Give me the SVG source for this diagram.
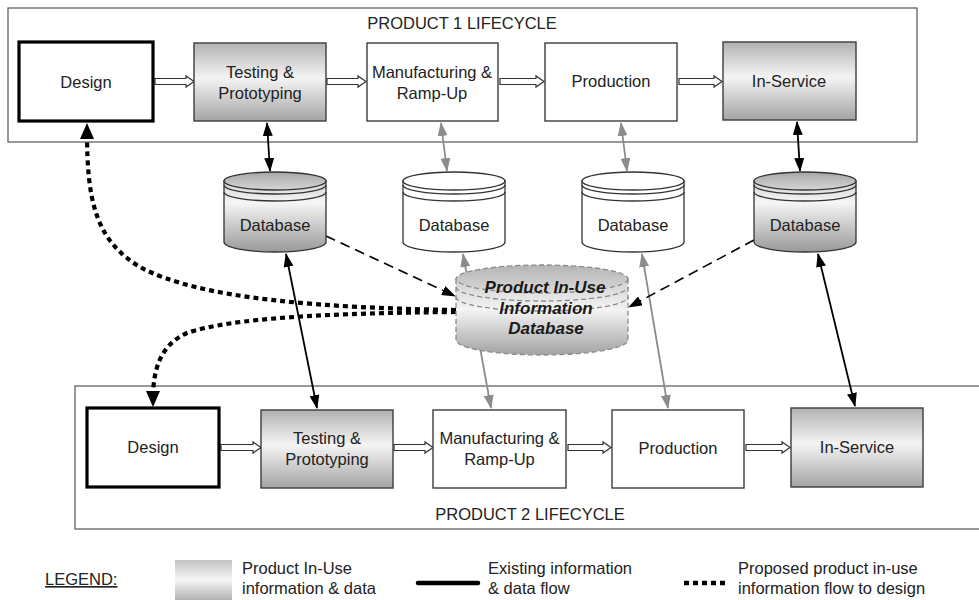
<svg xmlns="http://www.w3.org/2000/svg" width="979" height="600" viewBox="0 0 979 600">
<defs>
<linearGradient id="boxGrad" x1="0" y1="0" x2="0" y2="1"><stop offset="0" stop-color="#b2b2b2"/><stop offset="0.45" stop-color="#f4f4f4"/><stop offset="1" stop-color="#a4a4a4"/></linearGradient>
<linearGradient id="dbTop" x1="0" y1="0" x2="0" y2="1"><stop offset="0" stop-color="#a6a6a6"/><stop offset="1" stop-color="#d6d6d6"/></linearGradient>
<linearGradient id="dbBody" x1="0" y1="0" x2="0" y2="1"><stop offset="0" stop-color="#d0d0d0"/><stop offset="0.3" stop-color="#f6f6f6"/><stop offset="1" stop-color="#999999"/></linearGradient>
<linearGradient id="cTop" x1="0" y1="0" x2="0" y2="1"><stop offset="0" stop-color="#b4b4b4"/><stop offset="1" stop-color="#dadada"/></linearGradient>
<linearGradient id="cBody" x1="0" y1="0" x2="0" y2="1"><stop offset="0" stop-color="#cfcfcf"/><stop offset="0.4" stop-color="#f4f4f4"/><stop offset="1" stop-color="#a2a2a2"/></linearGradient>
<linearGradient id="legGrad" x1="0" y1="0" x2="0" y2="1"><stop offset="0" stop-color="#c2c2c2"/><stop offset="0.5" stop-color="#f6f6f6"/><stop offset="1" stop-color="#b2b2b2"/></linearGradient>
<marker id="mb" markerUnits="userSpaceOnUse" markerWidth="14" markerHeight="10" viewBox="0 0 14 10" refX="13" refY="5" orient="auto-start-reverse"><path d="M0,0 L14,5 L0,10 z" fill="#000"/></marker>
<marker id="mg" markerUnits="userSpaceOnUse" markerWidth="14" markerHeight="10" viewBox="0 0 14 10" refX="13" refY="5" orient="auto-start-reverse"><path d="M0,0 L14,5 L0,10 z" fill="#8c8c8c"/></marker>
<marker id="md" markerUnits="userSpaceOnUse" markerWidth="16" markerHeight="14" viewBox="0 0 16 14" refX="8" refY="7" orient="auto"><path d="M0,0 L16,7 L0,14 z" fill="#000"/></marker>
</defs>
<style>
.cont{fill:#fff;stroke:#555;stroke-width:1.2}
.box{fill:#fff;stroke:#3c3c3c;stroke-width:1.4}
.gbox{fill:url(#boxGrad);stroke:#3c3c3c;stroke-width:1.4}
.dbox{fill:#fff;stroke:#000;stroke-width:3.2}
.blk{fill:#fff;stroke:#333;stroke-width:1.2}
.t{font-family:"Liberation Sans",Arial,sans-serif;font-size:16.5px;fill:#222;text-anchor:middle}
.tl{font-family:"Liberation Sans",Arial,sans-serif;font-size:16.5px;fill:#222}
.ct{font-family:"Liberation Sans",Arial,sans-serif;font-size:17px;font-weight:bold;font-style:italic;fill:#1a1a1a;text-anchor:middle}
.cyl{stroke:#333;stroke-width:1.3}
.rim{fill:none;stroke:#333;stroke-width:1.3}
.solid{fill:none;stroke:#000;stroke-width:1.8;marker-start:url(#mb);marker-end:url(#mb)}
.gray{fill:none;stroke:#8c8c8c;stroke-width:1.8;marker-start:url(#mg);marker-end:url(#mg)}
.dash{fill:none;stroke:#000;stroke-width:1.6;stroke-dasharray:10 6;marker-end:url(#mb)}
.dot{fill:none;stroke:#000;stroke-width:4.2;stroke-dasharray:5 4;marker-end:url(#md)}
</style>
<rect width="979" height="600" fill="#fff"/>
<g id="product1">
<rect class="cont" x="8" y="8" width="909" height="134"/>
<text class="t" x="462" y="29" font-size="17">PRODUCT 1 LIFECYCLE</text>
</g>
<g id="product2">
<rect class="cont" x="75" y="386" width="920" height="143"/>
<text class="t" x="530" y="520">PRODUCT 2 LIFECYCLE</text>
</g>
<g id="connectors">
<path class="solid" d="M267,123 L270,171"/>
<path class="gray" d="M441,123 L447,171"/>
<path class="gray" d="M621,123 L627,171"/>
<path class="solid" d="M797,122 L800,171"/>
<path class="solid" d="M286,254 L317,408"/>
<path class="gray" d="M463,254 L491,408"/>
<path class="gray" d="M642,254 L668,408"/>
<path class="solid" d="M818,254 L855,406"/>
<path class="dash" d="M326,236 L455,296"/>
<path class="dash" d="M754,240 L629,307"/>
<path class="dot" d="M456,310 C330,308 200,300 140,267 C95,240 87,200 87,131"/>
<path class="dot" d="M456,312 C330,313 230,318 187,333 C160,345 153,370 153,399"/>
<path class="blk" d="M155,78.5 H186 V76 L194,81.5 L186,87 V84.5 H155 Z"/>
<path class="blk" d="M327,78.5 H358 V76 L366,81.5 L358,87 V84.5 H327 Z"/>
<path class="blk" d="M500,78.5 H536 V76 L544,81.5 L536,87 V84.5 H500 Z"/>
<path class="blk" d="M679,78.5 H714 V76 L722,81.5 L714,87 V84.5 H679 Z"/>
<path class="blk" d="M221,444.5 H253 V442 L261,447.5 L253,453 V450.5 H221 Z"/>
<path class="blk" d="M394,444.5 H425 V442 L433,447.5 L425,453 V450.5 H394 Z"/>
<path class="blk" d="M568,444.5 H603 V442 L611,447.5 L603,453 V450.5 H568 Z"/>
<path class="blk" d="M746,444.5 H782 V442 L790,447.5 L782,453 V450.5 H746 Z"/>
</g>
<g id="design1"><rect class="dbox" x="19" y="42" width="134" height="79"/><text class="t" x="86" y="88">Design</text></g>
<g id="testing1"><rect class="gbox" x="194" y="43" width="132" height="78"/><text class="t" x="260" y="78">Testing &amp;</text><text class="t" x="260" y="99">Prototyping</text></g>
<g id="manufacturing1"><rect class="box" x="367" y="43" width="131" height="78"/><text class="t" x="432" y="78">Manufacturing &amp;</text><text class="t" x="432" y="99">Ramp-Up</text></g>
<g id="production1"><rect class="box" x="545" y="43" width="132" height="78"/><text class="t" x="611" y="87">Production</text></g>
<g id="inservice1"><rect class="gbox" x="723" y="42" width="133" height="78"/><text class="t" x="789" y="87">In-Service</text></g>
<g id="db1" transform="translate(275,0)">
<path class="cyl" fill="url(#dbBody)" d="M-51,181 V242 A51,10 0 0 0 51,242 V181 Z"/>
<ellipse class="cyl" fill="url(#dbTop)" cx="0" cy="181" rx="51" ry="9"/>
<path class="rim" d="M-51,185 A51,9 0 0 0 51,185 M-51,192 A51,9 0 0 0 51,192"/>
<text class="t" x="0" y="231">Database</text>
</g>
<g id="db2" transform="translate(454,0)">
<path class="cyl" fill="#fff" d="M-51,181 V242 A51,10 0 0 0 51,242 V181 Z"/>
<ellipse class="cyl" fill="#fff" cx="0" cy="181" rx="51" ry="9"/>
<path class="rim" d="M-51,185 A51,9 0 0 0 51,185 M-51,192 A51,9 0 0 0 51,192"/>
<text class="t" x="0" y="231">Database</text>
</g>
<g id="db3" transform="translate(633,0)">
<path class="cyl" fill="#fff" d="M-51,181 V242 A51,10 0 0 0 51,242 V181 Z"/>
<ellipse class="cyl" fill="#fff" cx="0" cy="181" rx="51" ry="9"/>
<path class="rim" d="M-51,185 A51,9 0 0 0 51,185 M-51,192 A51,9 0 0 0 51,192"/>
<text class="t" x="0" y="231">Database</text>
</g>
<g id="db4" transform="translate(805,0)">
<path class="cyl" fill="url(#dbBody)" d="M-51,181 V242 A51,10 0 0 0 51,242 V181 Z"/>
<ellipse class="cyl" fill="url(#dbTop)" cx="0" cy="181" rx="51" ry="9"/>
<path class="rim" d="M-51,185 A51,9 0 0 0 51,185 M-51,192 A51,9 0 0 0 51,192"/>
<text class="t" x="0" y="231">Database</text>
</g>
<g id="inuse-db" transform="translate(542,0)">
<path fill="url(#cBody)" stroke="#8a8a8a" stroke-width="1.3" stroke-dasharray="5 3" d="M-86,279 V340 A86,15 0 0 0 86,340 V279 Z"/>
<ellipse fill="url(#cTop)" stroke="#8a8a8a" stroke-width="1.3" stroke-dasharray="5 3" cx="0" cy="279" rx="86" ry="14"/>
<path fill="none" stroke="#8a8a8a" stroke-width="1.3" stroke-dasharray="5 3" d="M-86,287 A86,14 0 0 0 86,287 M-86,297 A86,14 0 0 0 86,297"/>
<text class="ct" x="3" y="293">Product In-Use</text>
<text class="ct" x="4" y="314">Information</text>
<text class="ct" x="4" y="334">Database</text>
</g>
<g id="design2"><rect class="dbox" x="87" y="408" width="132" height="79"/><text class="t" x="153" y="453">Design</text></g>
<g id="testing2"><rect class="gbox" x="261" y="410" width="132" height="78"/><text class="t" x="327" y="444">Testing &amp;</text><text class="t" x="327" y="465">Prototyping</text></g>
<g id="manufacturing2"><rect class="box" x="433" y="410" width="133" height="78"/><text class="t" x="499.5" y="444">Manufacturing &amp;</text><text class="t" x="499.5" y="465">Ramp-Up</text></g>
<g id="production2"><rect class="box" x="612" y="410" width="132" height="78"/><text class="t" x="678" y="454">Production</text></g>
<g id="inservice2"><rect class="gbox" x="791" y="408" width="132" height="79"/><text class="t" x="857" y="453">In-Service</text></g>
<g id="legend">
<text class="tl" x="45" y="585" text-decoration="underline">LEGEND:</text>
<rect x="175" y="560" width="57" height="40" fill="url(#legGrad)"/>
<text class="tl" x="242" y="574">Product In-Use</text>
<text class="tl" x="242" y="594">information &amp; data</text>
<line x1="418" y1="583" x2="478" y2="583" stroke="#000" stroke-width="4.5" stroke-linecap="round"/>
<text class="tl" x="488" y="574">Existing information</text>
<text class="tl" x="488" y="594">&amp; data flow</text>
<line x1="684" y1="583" x2="728" y2="583" stroke="#000" stroke-width="4.5" stroke-dasharray="5 4"/>
<text class="tl" x="738" y="574">Proposed product in-use</text>
<text class="tl" x="738" y="594">information flow to design</text>
</g>
</svg>
